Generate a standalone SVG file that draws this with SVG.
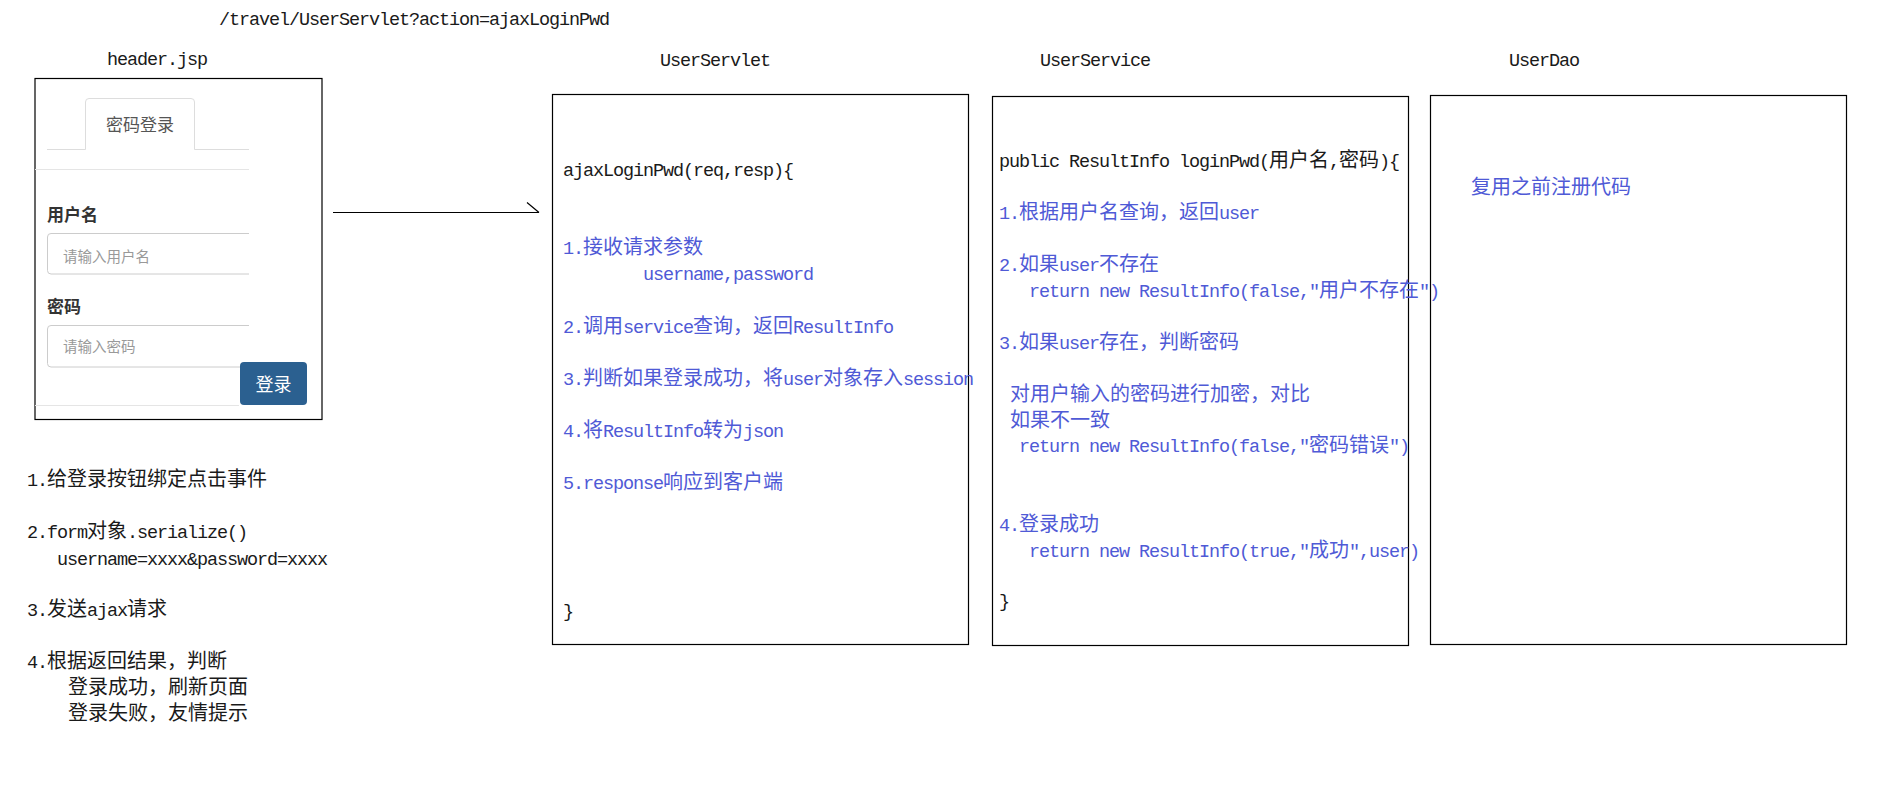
<svg xmlns="http://www.w3.org/2000/svg" width="1889" height="791" viewBox="0 0 1889 791">
<style>
.m{font-family:"Liberation Mono",monospace;font-size:18.5px;letter-spacing:-1.1px}
.c{font-family:"Noto Sans CJK SC",sans-serif;font-size:20px;letter-spacing:0}
.k{fill:#1a1a1a}
.b{fill:#4f5ad6}
.box{fill:none;stroke:#000;stroke-width:1.2}
.ui{font-family:"Noto Sans CJK SC",sans-serif}
.lbl{font-size:17px;font-weight:bold;fill:#333}
.ph{font-size:14.5px;fill:#999}
.thin{fill:none;stroke:#ddd;stroke-width:1}
.inp{fill:none;stroke:#ccc;stroke-width:1}
</style>
<rect width="1889" height="791" fill="#fff"/>

<text class="m k" x="219" y="25">/travel/UserServlet?action=ajaxLoginPwd</text>

<g id="header-jsp">
<text class="m k" x="107" y="65">header.jsp</text>
<rect class="box" x="35" y="78.5" width="287" height="341"/>
<path class="thin" d="M85.5 149.5 V102 Q85.5 98.5 89 98.5 H191 Q194.5 98.5 194.5 102 V149.5"/>
<path class="thin" d="M47 149.5 H85.5 M194.5 149.5 H249"/>
<path d="M35 169.5 H249" stroke="#e5e5e5" stroke-width="1"/>
<text class="ui" x="140" y="131" text-anchor="middle" font-size="17" fill="#555">密码登录</text>
<text class="ui lbl" x="47" y="221">用户名</text>
<path class="inp" d="M249 233.5 H51 Q47.5 233.5 47.5 237 V270.5 Q47.5 274 51 274 H249"/>
<text class="ui ph" x="63" y="262">请输入用户名</text>
<text class="ui lbl" x="47" y="313">密码</text>
<path class="inp" d="M249 325.5 H51 Q47.5 325.5 47.5 329 V363.5 Q47.5 367 51 367 H249"/>
<text class="ui ph" x="63" y="352">请输入密码</text>
<path d="M35 405.5 H239" stroke="#e5e5e5" stroke-width="1"/>
<rect x="240" y="362" width="67" height="43" rx="4" fill="#2b6090"/>
<text class="ui" x="273.5" y="390.5" text-anchor="middle" font-size="18" fill="#fff">登录</text>
</g>

<g id="client-steps">
<text class="m k" x="27" y="486">1.<tspan class="c">给登录按钮绑定点击事件</tspan></text>
<text class="m k" x="27" y="538">2.form<tspan class="c">对象</tspan>.serialize()</text>
<text class="m k" x="57" y="565">username=xxxx&amp;password=xxxx</text>
<text class="m k" x="27" y="616">3.<tspan class="c">发送</tspan>ajax<tspan class="c">请求</tspan></text>
<text class="m k" x="27" y="668">4.<tspan class="c">根据返回结果，判断</tspan></text>
<text class="m k" x="68" y="694"><tspan class="c">登录成功，刷新页面</tspan></text>
<text class="m k" x="68" y="720"><tspan class="c">登录失败，友情提示</tspan></text>
</g>

<g id="connectors">
<path d="M333 212.5 H539 M527 202.5 L539 212.5" fill="none" stroke="#000" stroke-width="1.2"/>
</g>

<g id="user-servlet">
<text class="m k" x="660" y="66">UserServlet</text>
<rect class="box" x="552.5" y="94.5" width="416" height="550"/>
<text class="m k" x="563" y="176">ajaxLoginPwd(req,resp){</text>
<text class="m b" x="563" y="254">1.<tspan class="c">接收请求参数</tspan></text>
<text class="m b" x="643" y="280">username,password</text>
<text class="m b" x="563" y="333">2.<tspan class="c">调用</tspan>service<tspan class="c">查询，返回</tspan>ResultInfo</text>
<text class="m b" x="563" y="385">3.<tspan class="c">判断如果登录成功，将</tspan>user<tspan class="c">对象存入</tspan>session</text>
<text class="m b" x="563" y="437">4.<tspan class="c">将</tspan>ResultInfo<tspan class="c">转为</tspan>json</text>
<text class="m b" x="563" y="489">5.response<tspan class="c">响应到客户端</tspan></text>
<text class="m k" x="563" y="617">}</text>
</g>

<g id="user-service">
<text class="m k" x="1040" y="66">UserService</text>
<rect class="box" x="992.5" y="96.5" width="416" height="549"/>
<text class="m k" x="999" y="167">public ResultInfo loginPwd(<tspan class="c">用户名</tspan>,<tspan class="c">密码</tspan>){</text>
<text class="m b" x="999" y="219">1.<tspan class="c">根据用户名查询，返回</tspan>user</text>
<text class="m b" x="999" y="271">2.<tspan class="c">如果</tspan>user<tspan class="c">不存在</tspan></text>
<text class="m b" x="1029" y="297">return new ResultInfo(false,"<tspan class="c">用户不存在</tspan>")</text>
<text class="m b" x="999" y="349">3.<tspan class="c">如果</tspan>user<tspan class="c">存在，判断密码</tspan></text>
<text class="m b" x="1010" y="401"><tspan class="c">对用户输入的密码进行加密，对比</tspan></text>
<text class="m b" x="1010" y="427"><tspan class="c">如果不一致</tspan></text>
<text class="m b" x="1019" y="452">return new ResultInfo(false,"<tspan class="c">密码错误</tspan>")</text>
<text class="m b" x="999" y="531">4.<tspan class="c">登录成功</tspan></text>
<text class="m b" x="1029" y="557">return new ResultInfo(true,"<tspan class="c">成功</tspan>",user)</text>
<text class="m k" x="999" y="607">}</text>
</g>

<g id="user-dao">
<text class="m k" x="1509" y="66">UserDao</text>
<rect class="box" x="1430.5" y="95.5" width="416" height="549"/>
<text class="m b" x="1471" y="194"><tspan class="c">复用之前注册代码</tspan></text>
</g>
</svg>
